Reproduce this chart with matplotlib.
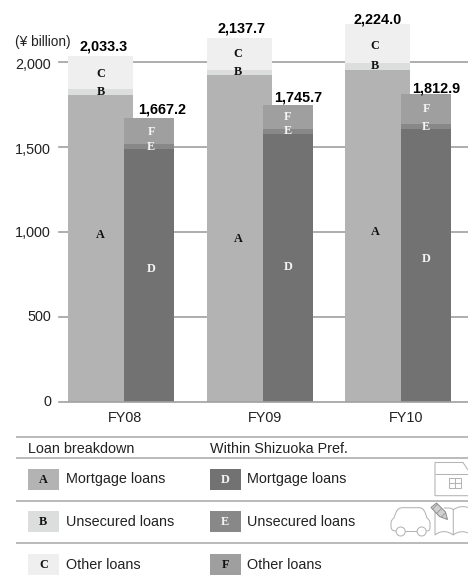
import matplotlib
matplotlib.use("Agg")
import matplotlib.pyplot as plt
from matplotlib.patches import Rectangle, Circle, Polygon, PathPatch
from matplotlib.path import Path

# Loan balances in billions of yen
fiscal_years = ["FY08", "FY09", "FY10"]
total_all = [2033.3, 2137.7, 2224.0]
mortgage_all = [1804, 1922, 1951]
unsecured_all = [36, 29, 39]
total_shizuoka = [1667.2, 1745.7, 1812.9]
mortgage_shizuoka = [1486, 1575, 1604]
unsecured_shizuoka = [30, 29, 30]
y_ticks = [0, 500, 1000, 1500, 2000]
y_tick_labels = ["0", "500", "1,000", "1,500", "2,000"]

other_all = [t - m - u for t, m, u in zip(total_all, mortgage_all, unsecured_all)]
other_shizuoka = [t - m - u for t, m, u in zip(total_shizuoka, mortgage_shizuoka, unsecured_shizuoka)]

W, H = 468, 577
C_A, C_B, C_C = "#b2b3b2", "#dcdddd", "#efefef"
C_D, C_E, C_F = "#727272", "#888888", "#9f9f9f"
RULE = "#a0a0a0"
ICON = "#b4b4b4"
SANS = "Liberation Sans"
SERIF = "Liberation Serif"
DARK_TXT = "#111111"
LIGHT_TXT = "#f4f4f4"

fig = plt.figure(figsize=(W / 100, H / 100), dpi=100, facecolor="white")

# Plot area: x in units of one group spacing, y in yen billions
left, right, y0, y_top = 59.0, 468.0, 401.7, 0.0
ax = fig.add_axes([left / W, 1 - y0 / H, (right - left) / W, (y0 - y_top) / H])
px_per_unit = 0.17
ax.set_ylim(0, (y0 - y_top) / px_per_unit)
group_px = 138.5
x_first = 100.5
ax.set_xlim((left - x_first) / group_px, (right - x_first) / group_px)
for s in ax.spines.values():
    s.set_visible(False)
ax.patch.set_alpha(0)
ax.set_xticks([])
ax.set_yticks([])

for t in y_ticks:
    ax.axhline(t, color=RULE, lw=1.2, zorder=4 if t == 0 else 1, clip_on=False)

w_all = 65 / group_px
w_sh = 50 / group_px
off_sh = 48.5 / group_px

for i in range(len(fiscal_years)):
    bottom = 0
    for val, col in ((mortgage_all[i], C_A), (unsecured_all[i], C_B), (other_all[i], C_C)):
        ax.bar(i, val, w_all, bottom=bottom, color=col, lw=0, zorder=2)
        bottom += val
    xs = i + off_sh
    bottom = 0
    for val, col in ((mortgage_shizuoka[i], C_D), (unsecured_shizuoka[i], C_E), (other_shizuoka[i], C_F)):
        ax.bar(xs, val, w_sh, bottom=bottom, color=col, lw=0, zorder=3)
        bottom += val

# Overlay in pixel coordinates for captions, table rules and icons
ov = fig.add_axes([0, 0, 1, 1])
ov.set_xlim(0, W)
ov.set_ylim(H, 0)
ov.axis("off")
ov.patch.set_alpha(0)
TXT = "#222222"
fs = 10.4
letter_fs = 8.8


def letter(x, y, s, color):
    ov.text(x, y, s, ha="center", va="center", fontfamily=SERIF, fontweight="bold",
            fontsize=letter_fs, color=color)


def value(x, base, v):
    ov.text(x, base, f"{v:,.1f}", ha="center", va="baseline", fontfamily=SANS,
            fontweight="bold", fontsize=10.4, color="black")


# Value captions above the stacks
for x, base, v in zip((104, 241, 378), (50.7, 32.7, 23), total_all):
    value(x, base, v)
for x, base, v in zip((161.7, 298.5, 436), (113.7, 101.4, 92.4), total_shizuoka):
    value(x, base, v)

# Segment letters
for x, ys in zip((100.5, 238, 375.3), (((235, "A"), (91.7, "B"), (74, "C")),
                                       ((239, "A"), (71.7, "B"), (53.7, "C")),
                                       ((232, "A"), (65.7, "B"), (45.7, "C")))):
    for y, s in ys:
        letter(x, y, s, DARK_TXT)
for x, ys in zip((151.3, 288, 426.3), (((269, "D"), (146.7, "E"), (131.7, "F")),
                                       ((267, "D"), (131, "E"), (116.7, "F")),
                                       ((259, "D"), (126.7, "E"), (108.7, "F")))):
    for y, s in ys:
        letter(x, y, s, LIGHT_TXT)

# Axis captions
for base, lab in zip((406, 321, 237, 153.5, 68.7), y_tick_labels):
    ov.text(51, base, lab, ha="right", va="baseline", fontfamily=SANS, fontsize=fs, color=TXT)
ov.text(15, 46, "(¥ billion)", ha="left", va="baseline", fontfamily=SANS, fontsize=fs - 0.6, color=TXT)
for x, fy in zip((124.8, 265.3, 406), fiscal_years):
    ov.text(x, 421.7, fy, ha="center", va="baseline", fontfamily=SANS, fontsize=fs, color=TXT)

# Table rules and headings
for y in (437.3, 457.7, 500.7, 542.7):
    ov.plot([16, 468], [y, y], color="#aeaeae", lw=1.2, solid_capstyle="butt")
ov.text(28.5, 453, "Loan breakdown", ha="left", va="baseline", fontfamily=SANS, fontsize=fs, color=TXT)
ov.text(210.5, 453, "Within Shizuoka Pref.", ha="left", va="baseline", fontfamily=SANS, fontsize=fs, color=TXT)

rows = [
    (469, "A", C_A, DARK_TXT, "D", C_D, LIGHT_TXT, "Mortgage loans", 483.5),
    (511, "B", C_B, DARK_TXT, "E", C_E, LIGHT_TXT, "Unsecured loans", 526.5),
    (554, "C", C_C, DARK_TXT, "F", C_F, DARK_TXT, "Other loans", 569.3),
]
for top, la, ca, ta, lb, cb, tb, name, base in rows:
    ov.add_patch(Rectangle((28, top), 31, 21, fc=ca, ec="none"))
    letter(43.4, top + 11, la, ta)
    ov.add_patch(Rectangle((210, top), 31, 21, fc=cb, ec="none"))
    letter(225.2, top + 11, lb, tb)
    ov.text(65.5, base, name, ha="left", va="baseline", fontfamily=SANS, fontsize=fs, color=TXT)
    ov.text(247.3, base, name, ha="left", va="baseline", fontfamily=SANS, fontsize=fs, color=TXT)


M, L, C4 = Path.MOVETO, Path.LINETO, Path.CURVE4


def stroke(verts, codes=None):
    if codes is None:
        codes = [M] + [L] * (len(verts) - 1)
    ov.add_patch(PathPatch(Path(verts, codes), fc="none", ec=ICON, lw=0.75))


# House icon, cut off by the right edge
stroke([(468, 470), (463, 462.5), (435, 462.5), (435, 495.7), (468, 495.7)])
stroke([(435, 474.3), (468, 474.3)])
stroke([(449, 477.7), (461.3, 477.7), (461.3, 488.3), (449, 488.3), (449, 477.7)])
stroke([(455.2, 477.7), (455.2, 488.3)])
stroke([(449, 483), (461.3, 483)])

# Car icon
car = [(396, 531), (392, 531), (391, 529), (391, 526), (391, 523),
       (391, 521), (392, 519.5), (394, 518),
       (396, 512), (397, 507.7), (403, 507.7), (419, 507.7),
       (424, 507.7), (425, 512), (427, 518),
       (429, 519.5), (430, 521), (430, 523), (430, 527),
       (430, 530), (429, 531), (426.2, 531)]
car_codes = [M, C4, C4, C4, L, C4, C4, C4, C4, C4, C4, L, C4, C4, C4, C4, C4, C4, L, C4, C4, C4]
stroke(car, car_codes)
stroke([(405.2, 531), (417.2, 531)])
for cx in (400.7, 421.7):
    ov.add_patch(Circle((cx, 531.5), 4.5, fc="white", ec=ICON, lw=0.75))

# Open book icon with pencil
stroke([(435, 510), (435, 535), (441, 530), (448, 531), (453.3, 535), (453.3, 510)],
       [M, L, C4, C4, C4, L])
stroke([(444, 508), (449, 508), (452, 508.5), (453, 509), (453.3, 510), (458, 506), (464, 506), (468, 507.5)],
       [M, L, C4, C4, C4, C4, C4, C4])
stroke([(453.3, 535), (458, 531), (464, 531), (468, 533)], [M, C4, C4, C4])
matplotlib.rcParams["hatch.linewidth"] = 0.5
ov.add_patch(Polygon([(431, 507.5), (436.5, 503), (445.5, 512), (447.5, 519.5), (439.5, 516.5)],
                     closed=True, fc="#d0d0d0", ec="#8a8a8a", lw=0.7, hatch="////"))

fig.savefig("out.png", dpi=100, facecolor="white")
